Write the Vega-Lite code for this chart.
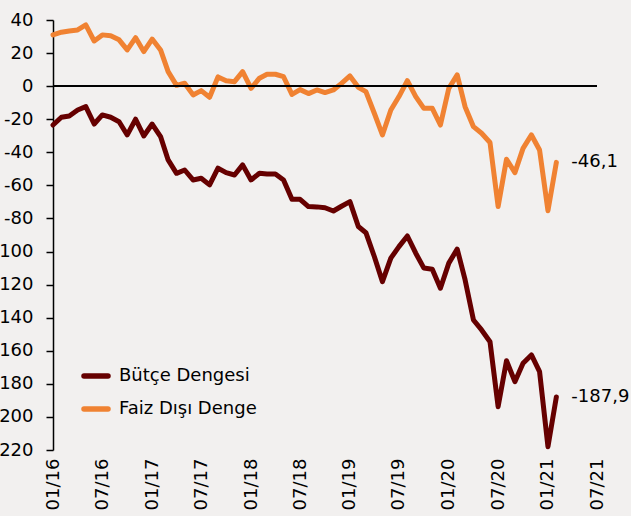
{
  "$schema": "https://vega.github.io/schema/vega-lite/v6.json",
  "autosize": "none",
  "width": 544,
  "height": 430,
  "padding": {"left": 53, "top": 20, "right": 34, "bottom": 66},
  "background": "#f2f0ef",
  "config": {
    "font": "DejaVu Sans",
    "view": {"stroke": null},
    "axis": {"labelOverlap": false},
    "locale": {"number": {"decimal": ",", "thousands": ".", "grouping": [3], "currency": ["", " TL"], "minus": "-"}}
  },
  "datasets": {
    "seriler": [
      {"tarih": "2016-01-01", "Bütçe Dengesi": -23.5, "Faiz Dışı Denge": 31},
      {"tarih": "2016-02-01", "Bütçe Dengesi": -18.8, "Faiz Dışı Denge": 32.6},
      {"tarih": "2016-03-01", "Bütçe Dengesi": -18, "Faiz Dışı Denge": 33.4},
      {"tarih": "2016-04-01", "Bütçe Dengesi": -14.4, "Faiz Dışı Denge": 34},
      {"tarih": "2016-05-01", "Bütçe Dengesi": -12.4, "Faiz Dışı Denge": 37},
      {"tarih": "2016-06-01", "Bütçe Dengesi": -22.9, "Faiz Dışı Denge": 27.3},
      {"tarih": "2016-07-01", "Bütçe Dengesi": -17.4, "Faiz Dışı Denge": 31},
      {"tarih": "2016-08-01", "Bütçe Dengesi": -18.8, "Faiz Dışı Denge": 30.5},
      {"tarih": "2016-09-01", "Bütçe Dengesi": -21.5, "Faiz Dışı Denge": 28},
      {"tarih": "2016-10-01", "Bütçe Dengesi": -29.5, "Faiz Dışı Denge": 21.9},
      {"tarih": "2016-11-01", "Bütçe Dengesi": -20, "Faiz Dışı Denge": 29.3},
      {"tarih": "2016-12-01", "Bütçe Dengesi": -30.1, "Faiz Dışı Denge": 20.9},
      {"tarih": "2017-01-01", "Bütçe Dengesi": -22.9, "Faiz Dışı Denge": 28.5},
      {"tarih": "2017-02-01", "Bütçe Dengesi": -30.5, "Faiz Dışı Denge": 21.9},
      {"tarih": "2017-03-01", "Bütçe Dengesi": -44.6, "Faiz Dışı Denge": 8.8},
      {"tarih": "2017-04-01", "Bütçe Dengesi": -52.7, "Faiz Dışı Denge": 0.5},
      {"tarih": "2017-05-01", "Bütçe Dengesi": -50.7, "Faiz Dışı Denge": 1.8},
      {"tarih": "2017-06-01", "Bütçe Dengesi": -56.7, "Faiz Dışı Denge": -5.3},
      {"tarih": "2017-07-01", "Bütçe Dengesi": -55.7, "Faiz Dışı Denge": -2.7},
      {"tarih": "2017-08-01", "Bütçe Dengesi": -59.7, "Faiz Dışı Denge": -6.7},
      {"tarih": "2017-09-01", "Bütçe Dengesi": -49.6, "Faiz Dışı Denge": 5.6},
      {"tarih": "2017-10-01", "Bütçe Dengesi": -52.3, "Faiz Dışı Denge": 3.2},
      {"tarih": "2017-11-01", "Bütçe Dengesi": -53.7, "Faiz Dışı Denge": 2.7},
      {"tarih": "2017-12-01", "Bütçe Dengesi": -47.6, "Faiz Dışı Denge": 8.8},
      {"tarih": "2018-01-01", "Bütçe Dengesi": -56.7, "Faiz Dışı Denge": -1.3},
      {"tarih": "2018-02-01", "Bütçe Dengesi": -52.7, "Faiz Dışı Denge": 4.8},
      {"tarih": "2018-03-01", "Bütçe Dengesi": -53.1, "Faiz Dışı Denge": 7.2},
      {"tarih": "2018-04-01", "Bütçe Dengesi": -53.1, "Faiz Dışı Denge": 7.2},
      {"tarih": "2018-05-01", "Bütçe Dengesi": -56.7, "Faiz Dışı Denge": 5.7},
      {"tarih": "2018-06-01", "Bütçe Dengesi": -68.4, "Faiz Dışı Denge": -5},
      {"tarih": "2018-07-01", "Bütçe Dengesi": -68.4, "Faiz Dışı Denge": -2.1},
      {"tarih": "2018-08-01", "Bütçe Dengesi": -72.8, "Faiz Dışı Denge": -4.5},
      {"tarih": "2018-09-01", "Bütçe Dengesi": -73, "Faiz Dışı Denge": -2.3},
      {"tarih": "2018-10-01", "Bütçe Dengesi": -73.5, "Faiz Dışı Denge": -3.9},
      {"tarih": "2018-11-01", "Bütçe Dengesi": -75.5, "Faiz Dışı Denge": -2.3},
      {"tarih": "2018-12-01", "Bütçe Dengesi": -72.6, "Faiz Dışı Denge": 1.7},
      {"tarih": "2019-01-01", "Bütçe Dengesi": -69.8, "Faiz Dışı Denge": 6.2},
      {"tarih": "2019-02-01", "Bütçe Dengesi": -84.9, "Faiz Dışı Denge": -0.7},
      {"tarih": "2019-03-01", "Bütçe Dengesi": -88.6, "Faiz Dışı Denge": -3.3},
      {"tarih": "2019-04-01", "Bütçe Dengesi": -103, "Faiz Dışı Denge": -16.4},
      {"tarih": "2019-05-01", "Bütçe Dengesi": -118.2, "Faiz Dışı Denge": -29.5},
      {"tarih": "2019-06-01", "Bütçe Dengesi": -104, "Faiz Dışı Denge": -14.4},
      {"tarih": "2019-07-01", "Bütçe Dengesi": -97, "Faiz Dışı Denge": -6.3},
      {"tarih": "2019-08-01", "Bütçe Dengesi": -90.6, "Faiz Dışı Denge": 3.3},
      {"tarih": "2019-09-01", "Bütçe Dengesi": -101, "Faiz Dışı Denge": -6.3},
      {"tarih": "2019-10-01", "Bütçe Dengesi": -110, "Faiz Dışı Denge": -13.4},
      {"tarih": "2019-11-01", "Bütçe Dengesi": -110.7, "Faiz Dışı Denge": -13.4},
      {"tarih": "2019-12-01", "Bütçe Dengesi": -122.2, "Faiz Dışı Denge": -23.5},
      {"tarih": "2020-01-01", "Bütçe Dengesi": -107, "Faiz Dışı Denge": -1.3},
      {"tarih": "2020-02-01", "Bütçe Dengesi": -98.5, "Faiz Dışı Denge": 6.8},
      {"tarih": "2020-03-01", "Bütçe Dengesi": -117, "Faiz Dışı Denge": -12.4},
      {"tarih": "2020-04-01", "Bütçe Dengesi": -141.4, "Faiz Dışı Denge": -24.5},
      {"tarih": "2020-05-01", "Bütçe Dengesi": -147.4, "Faiz Dışı Denge": -28.5},
      {"tarih": "2020-06-01", "Bütçe Dengesi": -154.5, "Faiz Dışı Denge": -34.1},
      {"tarih": "2020-07-01", "Bütçe Dengesi": -193.8, "Faiz Dışı Denge": -72.8},
      {"tarih": "2020-08-01", "Bütçe Dengesi": -166, "Faiz Dışı Denge": -44.2},
      {"tarih": "2020-09-01", "Bütçe Dengesi": -178.7, "Faiz Dışı Denge": -52.3},
      {"tarih": "2020-10-01", "Bütçe Dengesi": -167.6, "Faiz Dışı Denge": -37.6},
      {"tarih": "2020-11-01", "Bütçe Dengesi": -162.5, "Faiz Dışı Denge": -29.5},
      {"tarih": "2020-12-01", "Bütçe Dengesi": -172.6, "Faiz Dışı Denge": -38.6},
      {"tarih": "2021-01-01", "Bütçe Dengesi": -218, "Faiz Dışı Denge": -75.3},
      {"tarih": "2021-02-01", "Bütçe Dengesi": -187.9, "Faiz Dışı Denge": -46.1}
    ]
  },
  "data": {"name": "seriler"},
  "transform": [
    {"fold": ["Bütçe Dengesi", "Faiz Dışı Denge"], "as": ["seri", "deger"]}
  ],
  "encoding": {
    "x": {
      "field": "tarih",
      "type": "temporal",
      "scale": {"type": "utc", "domain": [{"year": 2016, "month": 1, "date": 1, "utc": true}, {"year": 2021, "month": 7, "date": 1, "utc": true}]},
      "axis": {
        "title": null,
        "domain": false,
        "ticks": false,
        "grid": false,
        "format": "%m/%y",
        "labelAngle": 270,
        "labelFontSize": 18,
        "labelColor": "#000000",
        "labelPadding": 8,
        "labelFlush": false,
        "labelOverlap": false,
        "values": [
          {"year": 2016, "month": 1, "date": 1, "utc": true}, {"year": 2016, "month": 7, "date": 1, "utc": true},
          {"year": 2017, "month": 1, "date": 1, "utc": true}, {"year": 2017, "month": 7, "date": 1, "utc": true},
          {"year": 2018, "month": 1, "date": 1, "utc": true}, {"year": 2018, "month": 7, "date": 1, "utc": true},
          {"year": 2019, "month": 1, "date": 1, "utc": true}, {"year": 2019, "month": 7, "date": 1, "utc": true},
          {"year": 2020, "month": 1, "date": 1, "utc": true}, {"year": 2020, "month": 7, "date": 1, "utc": true},
          {"year": 2021, "month": 1, "date": 1, "utc": true}, {"year": 2021, "month": 7, "date": 1, "utc": true}
        ]
      }
    },
    "y": {
      "field": "deger",
      "type": "quantitative",
      "scale": {"domain": [-220, 40], "nice": false, "zero": false},
      "axis": {
        "title": null,
        "grid": false,
        "values": [40, 20, 0, -20, -40, -60, -80, -100, -120, -140, -160, -180, -200, -220],
        "format": "d",
        "labelOverlap": false,
        "labelFlush": false,
        "labelFontSize": 18,
        "labelColor": "#000000",
        "labelPadding": 13,
        "tickSize": 7,
        "tickColor": "#000000",
        "domainColor": "#000000",
        "domainWidth": 1.5,
        "tickWidth": 1.5
      }
    }
  },
  "layer": [
    {
      "mark": {"type": "line", "strokeWidth": 5, "strokeJoin": "round", "strokeCap": "round"},
      "encoding": {
        "color": {
          "field": "seri",
          "type": "nominal",
          "scale": {"domain": ["Bütçe Dengesi", "Faiz Dışı Denge"], "range": ["#660000", "#f08232"]},
          "legend": {
            "title": null,
            "orient": "none",
            "legendX": 28,
            "legendY": 341,
            "padding": 0,
            "symbolType": "stroke",
            "symbolSize": 576,
            "symbolStrokeWidth": 5.5,
            "labelFontSize": 18,
            "labelColor": "#000000",
            "labelOffset": 8,
            "rowPadding": 7,
            "labelLimit": 300,
            "encode": {"symbols": {"update": {"strokeCap": {"value": "round"}}}}
          }
        }
      }
    },
    {
      "mark": {"type": "rule", "color": "#000000", "strokeWidth": 1.2},
      "encoding": {"x": null, "y": {"datum": 0, "type": "quantitative"}}
    },
    {
      "transform": [{"filter": "utcyear(datum.tarih) === 2021 && utcmonth(datum.tarih) === 1"}],
      "mark": {"type": "text", "align": "left", "baseline": "middle", "dx": 15, "fontSize": 18, "color": "#000000"},
      "encoding": {
        "text": {"field": "deger", "type": "quantitative", "format": ".1f"}
      }
    }
  ]
}
